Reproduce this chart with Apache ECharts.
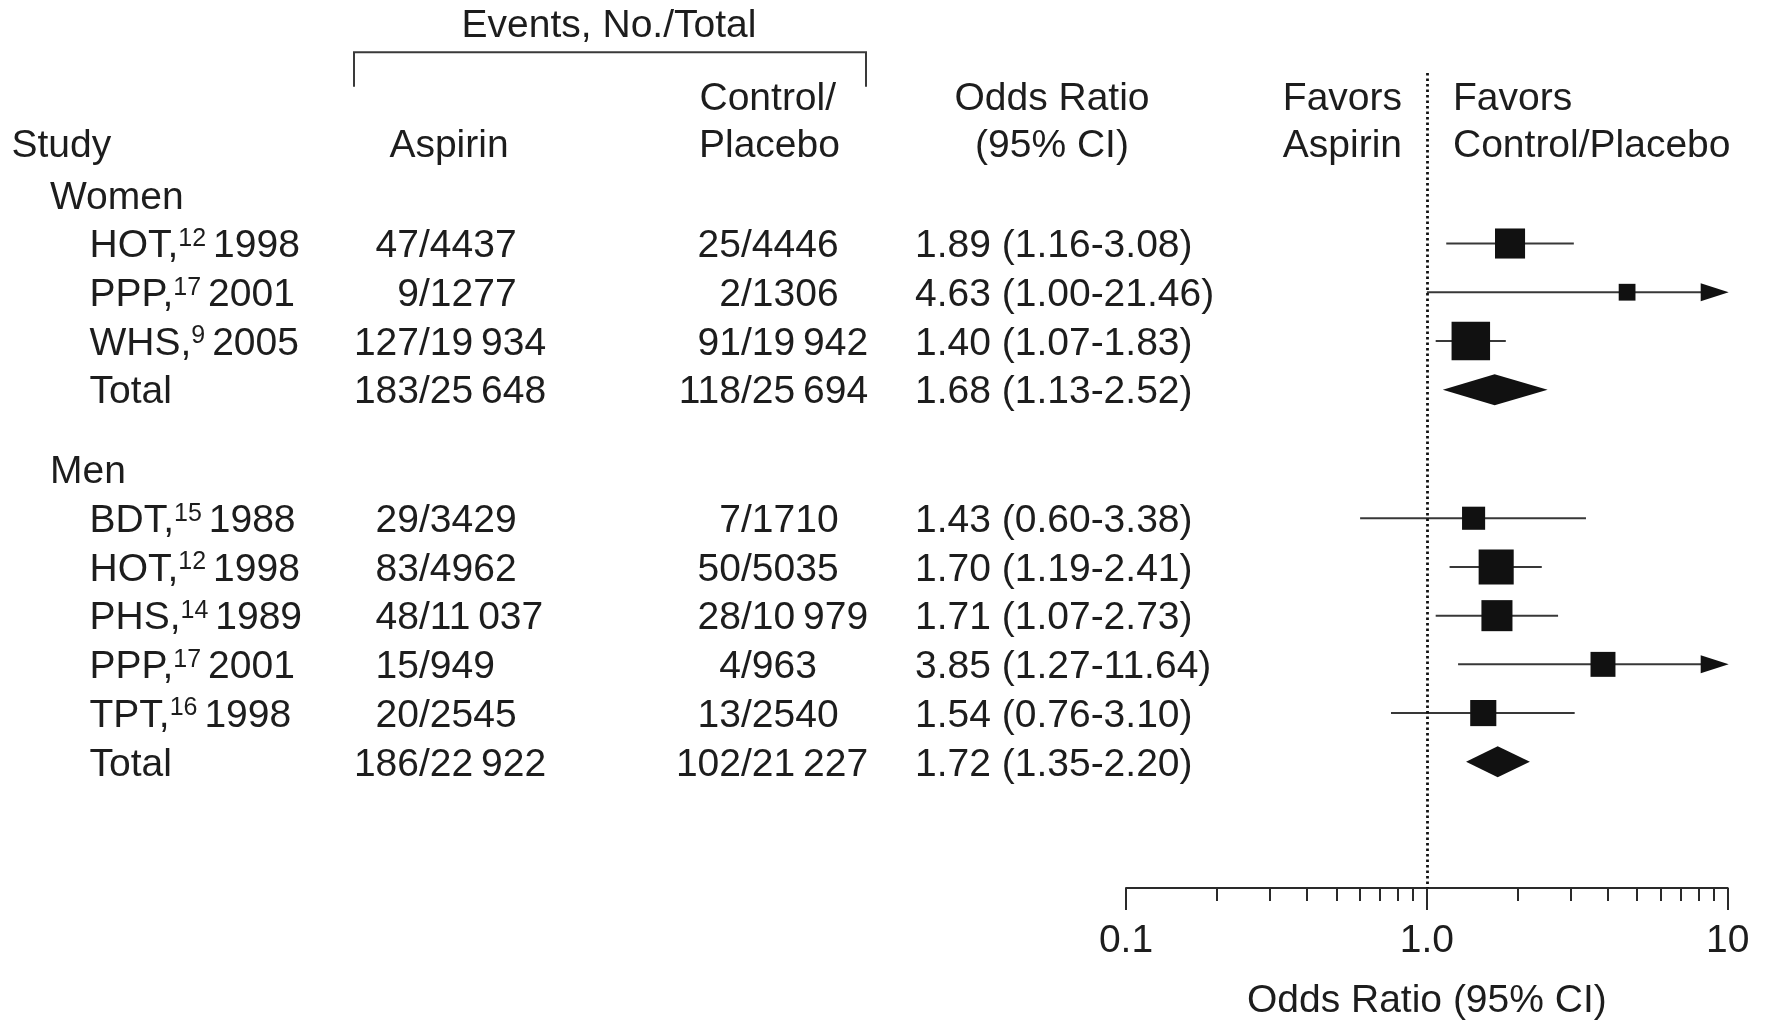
<!DOCTYPE html>
<html>
<head>
<meta charset="utf-8">
<script src="https://cdn.jsdelivr.net/npm/echarts@6/dist/echarts.min.js"></script>
<style>
  html, body { margin: 0; padding: 0; background: #ffffff; }
  #chart { width: 1768px; height: 1023px; }
</style>
</head>
<body>
<div id="chart"></div>
<script>
// ---- Data -------------------------------------------------------------
const groupNames = ['Women', 'Men'];
const studyGroup = [0, 0, 0, 0, 1, 1, 1, 1, 1, 1];
const studyNames = ['HOT', 'PPP', 'WHS', 'Total', 'BDT', 'HOT', 'PHS', 'PPP', 'TPT', 'Total'];
const studyRefs  = ['12', '17', '9', '', '15', '12', '14', '17', '16', ''];
const studyYears = ['1998', '2001', '2005', '', '1988', '1998', '1989', '2001', '1998', ''];
const isPooled   = [false, false, false, true, false, false, false, false, false, true];

const aspirinEvents = [47, 9, 127, 183, 29, 83, 48, 15, 20, 186];
const aspirinTotals = [4437, 1277, 19934, 25648, 3429, 4962, 11037, 949, 2545, 22922];
const controlEvents = [25, 2, 91, 118, 7, 50, 28, 4, 13, 102];
const controlTotals = [4446, 1306, 19942, 25694, 1710, 5035, 10979, 963, 2540, 21227];

const oddsRatio = [1.89, 4.63, 1.40, 1.68, 1.43, 1.70, 1.71, 3.85, 1.54, 1.72];
const ciLow     = [1.16, 1.00, 1.07, 1.13, 0.60, 1.19, 1.07, 1.27, 0.76, 1.35];
const ciHigh    = [3.08, 21.46, 1.83, 2.52, 3.38, 2.41, 2.73, 11.64, 3.10, 2.20];
// relative study weight (area of the square)
const studyWeight = [0.61, 0.19, 1.00, null, 0.36, 0.83, 0.65, 0.42, 0.46, null];

const axisTickValues  = [0.1, 1, 10];
const axisTickLabels  = ['0.1', '1.0', '10'];
const minorTickValues = [0.2, 0.3, 0.4, 0.5, 0.6, 0.7, 0.8, 0.9, 2, 3, 4, 5, 6, 7, 8, 9];

// ---- Layout -----------------------------------------------------------
const FONT = '"Liberation Sans", Arial, Helvetica, sans-serif';
const FS = 39;
const INK = '#1d1d1d';
const ROW_PX = 48.71;        // height of one table row
const ROW0_Y = 194.8;        // pixel centre of the first row
const TEXT_DY = 3;           // optical correction for text baseline
const GRID_TOP = 73;
const AXIS_Y = 888;
const GROUP_GAP = 1.64;      // extra rows between the two groups
const BOX_MAX = 38.5;        // side of the heaviest study's square
const DIAMOND_HALF = 15.5;
const ARROW_LEN = 27;

const COL = {
  group: 50,
  study: 89.5,
  aspSlash: 419,
  ctlSlash: 741,
  or: 915
};

// row position of each group header and each study line
const groupRow = [];
const studyRow = [];
let cursor = 0;
groupNames.forEach((g, gi) => {
  if (gi > 0) cursor += GROUP_GAP - 1;
  groupRow[gi] = cursor;
  cursor += 1;
  studyGroup.forEach((sg, si) => {
    if (sg === gi) { studyRow[si] = cursor; cursor += 1; }
  });
});

const yMin = (GRID_TOP - ROW0_Y) / ROW_PX;
const yMax = (AXIS_Y - ROW0_Y) / ROW_PX;

function fmtCount(n) {
  const s = String(n);
  return n >= 10000 ? s.slice(0, -3) + '\u2009' + s.slice(-3) : s;
}
function fmtOR(i) {
  return oddsRatio[i].toFixed(2) + ' (' + ciLow[i].toFixed(2) + '-' + ciHigh[i].toFixed(2) + ')';
}

function textEl(x, y, text, align, extra) {
  return {
    type: 'text',
    style: Object.assign({
      x: x, y: y + TEXT_DY, text: text,
      fill: INK, fontSize: FS, fontFamily: FONT,
      align: align, verticalAlign: 'middle'
    }, extra || {})
  };
}

// ---- Table text (rows follow the y axis) -------------------------------
const tableData = [];
groupNames.forEach((g, gi) => tableData.push([1, groupRow[gi], 0, gi]));
studyNames.forEach((s, si) => tableData.push([1, studyRow[si], 1, si]));

function renderTable(params, api) {
  const y = api.coord([1, api.value(1)])[1];
  const kind = api.value(2);
  const i = api.value(3);
  if (kind === 0) {
    return { type: 'group', children: [textEl(COL.group, y, groupNames[i], 'left')] };
  }
  const children = [];
  let label;
  if (studyRefs[i]) {
    label = '{n|' + studyNames[i] + ',}{s|' + studyRefs[i] + ' }{n|' + studyYears[i] + '}';
  } else {
    label = '{n|' + studyNames[i] + '}';
  }
  children.push(textEl(COL.study, y, label, 'left', {
    rich: {
      n: { fontSize: FS, fontFamily: FONT, fill: INK, lineHeight: 40 },
      s: { fontSize: 25, fontFamily: FONT, fill: INK, lineHeight: 25, verticalAlign: 'top' }
    }
  }));
  children.push(textEl(COL.aspSlash, y, String(aspirinEvents[i]), 'right'));
  children.push(textEl(COL.aspSlash, y, '/' + fmtCount(aspirinTotals[i]), 'left'));
  children.push(textEl(COL.ctlSlash, y, String(controlEvents[i]), 'right'));
  children.push(textEl(COL.ctlSlash, y, '/' + fmtCount(controlTotals[i]), 'left'));
  children.push(textEl(COL.or, y, fmtOR(i), 'left'));
  return { type: 'group', children: children };
}

// ---- Forest marks -------------------------------------------------------
const forestData = studyNames.map((s, i) => [oddsRatio[i], studyRow[i], i]);

function renderForest(params, api) {
  const i = api.value(2);
  const row = api.value(1);
  const xOf = v => api.coord([v, row])[0];
  const y = api.coord([1, row])[1];
  const xRight = xOf(10);
  const children = [];
  if (isPooled[i]) {
    children.push({
      type: 'polygon',
      shape: { points: [[xOf(ciLow[i]), y], [xOf(oddsRatio[i]), y - DIAMOND_HALF],
                        [xOf(ciHigh[i]), y], [xOf(oddsRatio[i]), y + DIAMOND_HALF]] },
      style: { fill: '#111111' }
    });
  } else {
    const beyond = ciHigh[i] > 10;
    const x1 = xOf(Math.max(ciLow[i], 0.1));
    const x2 = beyond ? xRight - ARROW_LEN + 2 : xOf(ciHigh[i]);
    children.push({
      type: 'line',
      shape: { x1: x1, y1: y, x2: x2, y2: y },
      style: { stroke: '#383838', lineWidth: 2 }
    });
    if (beyond) {
      children.push({
        type: 'polygon',
        shape: { points: [[xRight - ARROW_LEN, y - 9], [xRight + 1, y], [xRight - ARROW_LEN, y + 9]] },
        style: { fill: '#111111' }
      });
    }
    const side = BOX_MAX * Math.sqrt(studyWeight[i]);
    const cx = xOf(oddsRatio[i]);
    children.push({
      type: 'rect',
      shape: { x: cx - side / 2, y: y - side / 2, width: side, height: side },
      style: { fill: '#111111' }
    });
  }
  return { type: 'group', children: children };
}

// ---- Column headers -------------------------------------------------------
const HEAD1_Y = 95.8 + TEXT_DY;
const HEAD2_Y = 143 + TEXT_DY;
function headText(x, y, text, align) {
  return {
    type: 'text', silent: true,
    style: { x: x, y: y, text: text, fill: INK, fontSize: FS, fontFamily: FONT,
             align: align, verticalAlign: 'middle' }
  };
}
const headerGraphics = [
  headText(609, 23.7 + TEXT_DY, 'Events, No./Total', 'center'),
  {
    type: 'polyline', silent: true,
    shape: { points: [[354, 86.7], [354, 52.3], [866, 52.3], [866, 86.7]] },
    style: { stroke: '#3a3a3a', lineWidth: 2, fill: null }
  },
  headText(11.5, HEAD2_Y, 'Study', 'left'),
  headText(449, HEAD2_Y, 'Aspirin', 'center'),
  headText(699.5, HEAD1_Y, 'Control/', 'left'),
  headText(699, HEAD2_Y, 'Placebo', 'left'),
  headText(1052, HEAD1_Y, 'Odds Ratio', 'center'),
  headText(1052, HEAD2_Y, '(95% CI)', 'center'),
  headText(1402, HEAD1_Y, 'Favors', 'right'),
  headText(1402, HEAD2_Y, 'Aspirin', 'right'),
  headText(1453, HEAD1_Y, 'Favors', 'left'),
  headText(1453, HEAD2_Y, 'Control/Placebo', 'left')
];

function tickLabel(v) {
  for (let k = 0; k < axisTickValues.length; k++) {
    if (Math.abs(Math.log10(v) - Math.log10(axisTickValues[k])) < 1e-6) return axisTickLabels[k];
  }
  return '';
}

const chart = echarts.init(document.getElementById('chart'), null, { renderer: 'canvas' });
chart.setOption({
  animation: false,
  backgroundColor: '#ffffff',
  grid: {
    left: 1126, right: 40.3, top: GRID_TOP, bottom: 1023 - AXIS_Y,
    containLabel: false, outerBoundsMode: 'none'
  },
  xAxis: [
    {
      type: 'log', logBase: 10, min: 0.1, max: 10, position: 'bottom',
      axisLine: { show: true, onZero: false, lineStyle: { color: '#2a2a2a', width: 2 } },
      axisTick: { show: true, length: 22, customValues: axisTickValues,
                  lineStyle: { color: '#2a2a2a', width: 2 } },
      axisLabel: { show: true, customValues: axisTickValues, formatter: tickLabel,
                   showMinLabel: true, showMaxLabel: true, margin: 34,
                   fontSize: FS, fontFamily: FONT, color: INK },
      splitLine: { show: false },
      minorTick: { show: false },
      name: 'Odds Ratio (95% CI)', nameLocation: 'middle', nameGap: 94,
      nameTextStyle: { fontSize: FS, fontFamily: FONT, color: INK }
    },
    {
      type: 'log', logBase: 10, min: 0.1, max: 10, position: 'bottom',
      axisLine: { show: false, onZero: false },
      axisTick: { show: true, length: 13, customValues: minorTickValues,
                  lineStyle: { color: '#2a2a2a', width: 2 } },
      axisLabel: { show: false },
      splitLine: { show: false }
    }
  ],
  yAxis: { type: 'value', inverse: true, min: yMin, max: yMax, show: false },
  graphic: headerGraphics,
  series: [
    {
      type: 'custom', name: 'table', clip: false, silent: true,
      xAxisIndex: 0,
      data: tableData,
      encode: { x: 0, y: 1 },
      renderItem: renderTable
    },
    {
      type: 'custom', name: 'forest', clip: false, silent: true,
      xAxisIndex: 0,
      data: forestData,
      encode: { x: 0, y: 1 },
      renderItem: renderForest,
      markLine: {
        silent: true, symbol: 'none', animation: false,
        label: { show: false },
        lineStyle: { type: [2.5, 3], color: '#111111', width: 2.8 },
        data: [{ xAxis: 1 }]
      }
    }
  ]
});
</script>
</body>
</html>
